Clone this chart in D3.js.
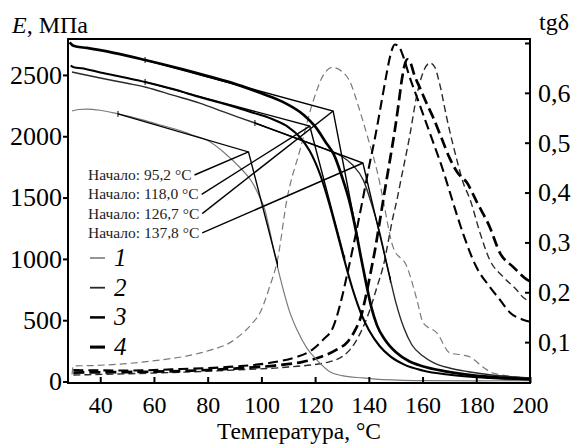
<!DOCTYPE html>
<html lang="ru">
<head>
<meta charset="utf-8">
<title>E, tgd</title>
<script src="https://d3js.org/d3.v7.min.js"></script>
<style>
  body { margin: 0; background: #fff; }
  svg { display: block; font-family: "Liberation Serif", "Times New Roman", serif; }
</style>
</head>
<body>
<div id="chart"></div>
<script>
// модуль упругости E, МПа: [T, E]
var e1 = [[29.5,2206],[32,2218],[35,2222],[40,2212],[46.6,2182],[55,2138],[62,2094],[70,2045],[74,2012],[80,1965],[86.5,1860],[92,1745],[96.5,1627],[99,1520],[101.3,1400],[103,1240],[105,1030],[108,760],[110.5,570],[113.3,420],[117,270],[120.7,175],[125.5,80],[130,48],[137.8,29],[145,16],[162.8,7],[180,5],[195,8],[200,8]];
var e2 = [[29.5,2524],[32,2512],[40,2475],[50,2432],[57,2400],[67,2335],[77,2270],[87,2190],[97.6,2108],[105,2048],[112,1992],[120,1927],[126,1876],[130,1835],[134,1765],[138,1640],[141,1450],[144,1220],[147,930],[150,650],[153,440],[156,300],[160,210],[164,155],[170,110],[177,80],[185,55],[200,30]];
var e3 = [[29,2576],[30.5,2560],[33,2555],[40,2520],[50,2475],[56.7,2443],[67,2385],[77,2320],[87,2258],[96,2198],[104,2140],[110,2075],[114,2000],[118,1880],[122,1680],[125,1470],[128,1230],[131,980],[134,750],[137,560],[140,420],[144,290],[148,205],[153,140],[160,90],[170,55],[185,30],[200,18]];
var e4 = [[28.6,2765],[29.5,2745],[31,2732],[35,2720],[45,2680],[56.7,2622],[70,2550],[80,2490],[89,2435],[100,2350],[108,2280],[116,2170],[120,2080],[124,1950],[127,1850],[130,1670],[133,1450],[135,1250],[137,1020],[139,800],[141,600],[143,460],[146,340],[150,240],[155,165],[160,125],[168,85],[178,52],[190,30],[200,20]];

// тангенс угла потерь: [T, tgδ]
var t1 = [[29.5,0.035],[30,0.052],[37,0.053],[50,0.057],[62,0.064],[72,0.072],[81,0.084],[88,0.098],[93,0.118],[96.5,0.137],[99.5,0.159],[103,0.21],[106,0.265],[109.5,0.386],[114.4,0.486],[119.2,0.582],[123,0.635],[126.3,0.651],[130,0.643],[133,0.622],[136,0.575],[139.3,0.516],[144.2,0.416],[145.3,0.386],[149,0.291],[154.2,0.251],[157.9,0.185],[160.2,0.139],[165.4,0.118],[170.2,0.078],[175.1,0.074],[177.7,0.07],[182.5,0.05],[186.2,0.038],[200,0.028]];
var t2 = [[30,0.034],[60,0.038],[90,0.044],[110,0.05],[125,0.06],[133,0.085],[137,0.12],[140.4,0.165],[143,0.21],[145.3,0.251],[149,0.351],[150.5,0.386],[151.6,0.416],[155.3,0.516],[157.9,0.596],[160.5,0.645],[162.8,0.66],[164.5,0.652],[166.5,0.615],[169,0.55],[172.8,0.465],[175.1,0.42],[177.7,0.386],[181.4,0.319],[185,0.265],[190,0.231],[195,0.205],[197.4,0.19],[200,0.182]];
var t3 = [[30,0.044],[50,0.043],[70,0.046],[90,0.051],[105,0.06],[113,0.07],[119,0.085],[123,0.105],[126.7,0.13],[129.3,0.175],[131.9,0.235],[134.5,0.3],[137.5,0.38],[140,0.45],[142.3,0.51],[144.5,0.575],[146.5,0.635],[148,0.675],[149.7,0.697],[151.5,0.69],[153,0.67],[155,0.635],[158,0.59],[161,0.545],[164,0.5],[167,0.455],[170.2,0.4],[172.8,0.355],[175,0.319],[180,0.251],[185,0.211],[188.8,0.185],[192.6,0.159],[197.4,0.145],[200,0.141]];
var t4 = [[30,0.039],[50,0.04],[70,0.042],[90,0.047],[105,0.053],[115,0.06],[122,0.07],[128,0.085],[132,0.1],[135,0.125],[137,0.15],[138.6,0.185],[140.5,0.235],[142.3,0.285],[144,0.34],[146,0.406],[148,0.47],[149.7,0.526],[151,0.575],[152.3,0.627],[153.3,0.655],[154.3,0.667],[155.5,0.66],[157,0.635],[159,0.61],[161,0.585],[164,0.55],[167,0.51],[170,0.47],[173,0.44],[176.5,0.42],[180.3,0.38],[185,0.331],[188.8,0.279],[193.7,0.251],[199,0.225],[200,0.222]];

// касательные: точка на плато, начало (излом), точка перегиба
var onsetT = [95.2, 118.0, 126.7, 137.8];
var onsetE = [1872, 2083, 2206, 1782];
var baseFrom = [[46.6,2182],[56.7,2443],[56.7,2622],[97.6,2108]];
var steepTo = [[106,955],[131,1004],[136,1150],[148,830]];
var onsetLabels = ["Начало: 95,2 °C", "Начало: 118,0 °C", "Начало: 126,7 °C", "Начало: 137,8 °C"];

var xTicks = [40, 60, 80, 100, 120, 140, 160, 180, 200];
var eTicks = [0, 500, 1000, 1500, 2000, 2500];
var tTicks = [0.1, 0.2, 0.3, 0.4, 0.5, 0.6, 0.7];
var legendNames = ["1", "2", "3", "4"];

var W = 575, H = 445;
var m = {left: 68, right: 45, top: 39, bottom: 62};

var svg = d3.select("#chart").append("svg").attr("width", W).attr("height", H);

var x = d3.scaleLinear().domain([28, 200]).range([m.left, W - m.right]);
var yE = d3.scaleLinear().domain([-12, 2793]).range([H - m.bottom, m.top]);
var yT = d3.scaleLinear().domain([0.018, 0.708]).range([H - m.bottom, m.top]);

// стили серий 1..4
var colors = ["#7a7a7a", "#2a2a2a", "#000", "#000"];
var widths = [1.2, 1.4, 2.1, 2.7];
var dashes = ["7,4", "7,4", "10,5", "11,5"];

var lineE = d3.line().x(d => x(d[0])).y(d => yE(d[1])).curve(d3.curveMonotoneX);
var lineT = d3.line().x(d => x(d[0])).y(d => yT(d[1])).curve(d3.curveMonotoneX);

var plot = svg.append("g");

[t1, t2, t3, t4].forEach(function(s, i) {
  plot.append("path").attr("d", lineT(s)).attr("fill", "none")
    .attr("stroke", colors[i]).attr("stroke-width", widths[i]).attr("stroke-dasharray", dashes[i]);
});
[e1, e2, e3, e4].forEach(function(s, i) {
  plot.append("path").attr("d", lineE(s)).attr("fill", "none")
    .attr("stroke", colors[i]).attr("stroke-width", widths[i]);
});

// касательные
var seg = d3.line().x(d => x(d[0])).y(d => yE(d[1]));
onsetT.forEach(function(t, i) {
  var corner = [t, onsetE[i]];
  plot.append("path").attr("d", seg([baseFrom[i], corner, steepTo[i]]))
    .attr("fill", "none").attr("stroke", "#000").attr("stroke-width", 1.4);
  [baseFrom[i], steepTo[i]].forEach(function(p) {
    plot.append("line")
      .attr("x1", x(p[0])).attr("x2", x(p[0]))
      .attr("y1", yE(p[1]) - 3).attr("y2", yE(p[1]) + 3)
      .attr("stroke", "#000").attr("stroke-width", 1);
  });
});

// подписи начала и выноски
var labG = svg.append("g");
onsetLabels.forEach(function(txt, i) {
  var ty = 180 + i * 19.3;
  var t = labG.append("text").attr("x", 88).attr("y", ty)
    .attr("font-size", 15.5).attr("fill", "#222").text(txt);
  var w = t.node().getComputedTextLength();
  labG.append("line")
    .attr("x1", 88 + w + 3).attr("y1", ty - 5)
    .attr("x2", x(onsetT[i])).attr("y2", yE(onsetE[i]))
    .attr("stroke", "#000").attr("stroke-width", 1.4);
});

// легенда
var leg = svg.append("g");
legendNames.forEach(function(n, i) {
  var ly = 258 + i * 29.7;
  leg.append("line").attr("x1", 90).attr("x2", 105).attr("y1", ly).attr("y2", ly)
    .attr("stroke", colors[i]).attr("stroke-width", widths[i] + 0.4);
  leg.append("text").attr("x", 114).attr("y", ly + 8).attr("font-size", 25)
    .attr("font-style", "italic").text(n);
});

// оси
var fmt = d3.format(".1f");
var axL = svg.append("g").attr("transform", "translate(" + m.left + ",0)")
  .call(d3.axisLeft(yE).tickValues(eTicks).tickSize(5).tickPadding(1).tickFormat(d3.format("d")));
var axB = svg.append("g").attr("transform", "translate(0," + (H - m.bottom) + ")")
  .call(d3.axisBottom(x).tickValues(xTicks).tickSize(-6).tickPadding(13));
var axR = svg.append("g").attr("transform", "translate(" + (W - m.right) + ",0)")
  .call(d3.axisRight(yT).tickValues(tTicks).tickSize(-5).tickPadding(8)
    .tickFormat(d => d > 0.65 ? "" : fmt(d).replace(".", ",")));

[axL, axB, axR].forEach(function(a) {
  a.select(".domain").remove();
  a.selectAll("line").attr("stroke", "#000").attr("stroke-width", 2);
  a.selectAll("text").attr("font-size", 26).attr("fill", "#000")
    .attr("font-family", "Liberation Serif, serif");
});
axB.selectAll("text").attr("font-size", 24);

svg.append("rect").attr("x", m.left).attr("y", m.top)
  .attr("width", W - m.left - m.right).attr("height", H - m.top - m.bottom)
  .attr("fill", "none").attr("stroke", "#000").attr("stroke-width", 2);

// заголовки осей
var tE = svg.append("text").attr("x", 12).attr("y", 33).attr("font-size", 24);
tE.append("tspan").attr("font-style", "italic").text("E");
tE.append("tspan").text(", МПа");
svg.append("text").attr("x", 539).attr("y", 30).attr("font-size", 24).text("tgδ");
svg.append("text").attr("x", (m.left + W - m.right) / 2).attr("y", 439)
  .attr("text-anchor", "middle").attr("font-size", 23.5).text("Температура, °C");
</script>
</body>
</html>
